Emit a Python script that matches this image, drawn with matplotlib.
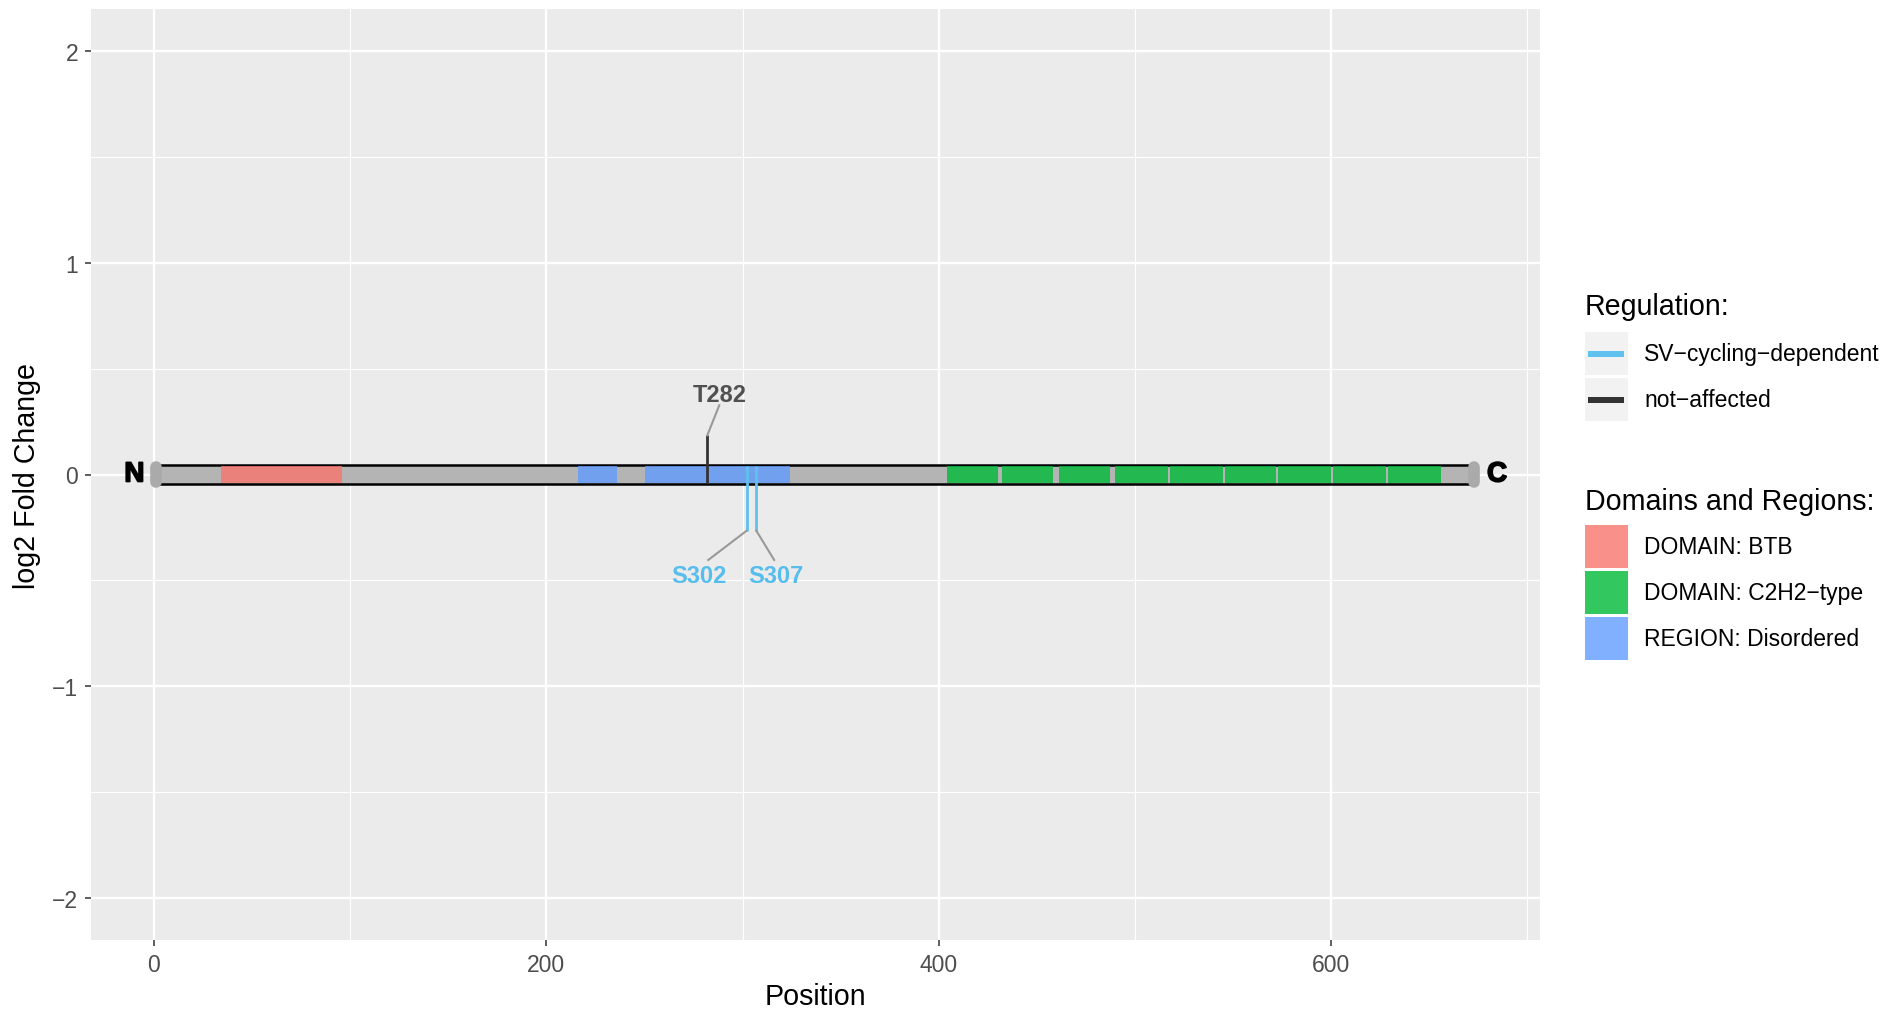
import matplotlib.pyplot as plt
import matplotlib.patheffects as pe
from matplotlib.patches import Rectangle
from matplotlib.ticker import MultipleLocator

plt.rcParams['font.family'] = ['Liberation Sans', 'DejaVu Sans']

# protein backbone
protein_start = 1
protein_end = 673

# domains / regions along the protein
domain_types = ["DOMAIN: BTB", "DOMAIN: C2H2\u2212type", "REGION: Disordered"]
domain_colors = ["#F8766D", "#00BA38", "#619CFF"]
domain_kind = [0, 2, 2, 1, 1, 1, 1, 1, 1, 1, 1, 1]
domain_start = [34, 216, 250, 404, 432, 461, 490, 518, 546, 573, 601, 629]
domain_end = [96, 236, 324, 430, 458, 487, 517, 545, 572, 600, 628, 656]

# phosphosites
regulation_names = ["SV\u2212cycling\u2212dependent", "not\u2212affected"]
regulation_colors = ["#5EC1EE", "#333333"]
site_names = ["T282", "S302", "S307"]
site_pos = [282, 302, 307]
site_value = [0.185, -0.266, -0.266]
site_reg = [1, 0, 0]
site_text_colors = ["#505050", "#56BDEC", "#56BDEC"]
label_x = [288.5, 278, 317]
label_y = [0.376, -0.477, -0.477]
conn_x = [288.1, 282.5, 316.1]
conn_y = [0.327, -0.404, -0.404]

W, H = 1901, 1012
fig = plt.figure(figsize=(W / 100, H / 100), dpi=100)
fig.patch.set_facecolor('white')

left, right, top, bottom = 91, 1540, 10, 941
ax = fig.add_axes([left / W, 1 - bottom / H, (right - left) / W, (bottom - top) / H])
ax.set_facecolor('#EBEBEB')
ax.set_xlim(-32.1, 706.4)
ax.set_ylim(-2.2, 2.2)
for s in ax.spines.values():
    s.set_visible(False)

ax.xaxis.set_major_locator(MultipleLocator(200))
ax.xaxis.set_minor_locator(MultipleLocator(100))
ax.yaxis.set_major_locator(MultipleLocator(1))
ax.yaxis.set_minor_locator(MultipleLocator(0.5))
ax.grid(which='major', color='white', lw=1.7)
ax.grid(which='minor', color='white', lw=0.85)
ax.set_axisbelow(True)
ax.tick_params(which='major', length=4.3, width=1.1, color='#333333',
               labelcolor='#4D4D4D', labelsize=16.5, pad=5)
ax.tick_params(which='minor', length=0)

# backbone
ax.add_patch(Rectangle((protein_start, -0.043), protein_end - protein_start, 0.086,
                       facecolor='#B4B4B4', edgecolor='black', lw=1.8, zorder=3))

for k, s, e in zip(domain_kind, domain_start, domain_end):
    ax.add_patch(Rectangle((s, -0.038), e - s, 0.076, facecolor=domain_colors[k],
                           alpha=0.8, lw=0, zorder=4))

# end caps
for xe in (protein_start, protein_end):
    ax.plot([xe, xe], [-0.036, 0.036], color='#AAAAAA', lw=8.4,
            solid_capstyle='round', zorder=5)
heavy = [pe.withStroke(linewidth=1.2, foreground='black')]
ax.text(protein_start - 11, 0, "N", fontsize=20, fontweight='bold',
        ha='center', va='center', zorder=6, path_effects=heavy)
ax.text(protein_end + 11.5, 0, "C", fontsize=20, fontweight='bold',
        ha='center', va='center', zorder=6, path_effects=heavy)

# sites
for i in range(len(site_names)):
    v = site_value[i]
    y0 = -0.042 if v > 0 else 0.04
    ax.plot([site_pos[i], site_pos[i]], [y0, v], color=regulation_colors[site_reg[i]],
            lw=2.0, zorder=6, solid_capstyle='butt')
    ax.plot([site_pos[i], conn_x[i]], [v, conn_y[i]], color='#999999', lw=1.5, zorder=6)
    ax.text(label_x[i], label_y[i], site_names[i], color=site_text_colors[i],
            fontsize=17, fontweight='bold', ha='center', va='center', zorder=7)

fig.text(815.5 / W, 1 - 997 / H, "Position", fontsize=20.6, ha='center', va='center')
fig.text(27 / W, 1 - 476 / H, "log2 Fold Change", fontsize=20.6, rotation=90,
         ha='center', va='center')

# legend drawn in pixel space
lax = fig.add_axes([0, 0, 1, 1])
lax.set_xlim(0, W)
lax.set_ylim(H, 0)
lax.axis('off')
lax.patch.set_visible(False)

kx, ks = 1585, 43
lax.text(kx, 315, "Regulation:", fontsize=20.6, va='baseline')
for j, (name, col) in enumerate(zip(regulation_names, regulation_colors)):
    ky = 333 + j * 46
    lax.add_patch(Rectangle((kx, ky), ks, ks, facecolor='#F2F2F2', lw=0))
    lax.plot([kx + 3, kx + ks - 4], [ky + ks / 2, ky + ks / 2], color=col,
             lw=4.3, solid_capstyle='butt')
    lax.text(1644, ky + ks / 2, name, fontsize=16.5, va='center')

lax.text(kx, 510, "Domains and Regions:", fontsize=20.6, va='baseline')
for j, (name, col) in enumerate(zip(domain_types, domain_colors)):
    ky = 526 + j * 46
    lax.add_patch(Rectangle((kx, ky), ks, ks, facecolor=col, alpha=0.8, lw=0))
    lax.text(1644, ky + ks / 2, name, fontsize=16.5, va='center')

fig.savefig('out.png', dpi=100)
